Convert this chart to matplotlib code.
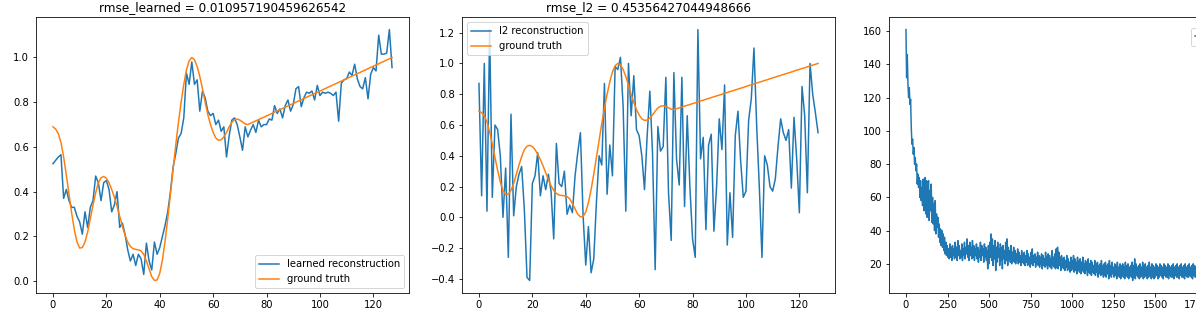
from __future__ import annotations

import matplotlib

matplotlib.use("Agg")

import matplotlib.pyplot as plt
import numpy as np


FIG_W_PX = 1196
FIG_H_PX = 322
DPI = 72

# reconstruction of a 128 sample signal
GROUND_TRUTH = [
    0.69, 0.68, 0.66, 0.62, 0.555, 0.475, 0.39, 0.305, 0.23, 0.175,
    0.148, 0.15, 0.175, 0.22, 0.28, 0.34, 0.395, 0.44, 0.462, 0.468,
    0.46, 0.44, 0.41, 0.375, 0.335, 0.29, 0.245, 0.205, 0.175, 0.155,
    0.145, 0.142, 0.14, 0.135, 0.12, 0.09, 0.055, 0.02, 0.003, 0.005,
    0.035, 0.095, 0.18, 0.28, 0.39, 0.50, 0.61, 0.71, 0.80, 0.88,
    0.945, 0.985, 1.0, 0.99, 0.96, 0.915, 0.86, 0.80, 0.745, 0.70,
    0.665, 0.64, 0.63, 0.632, 0.645, 0.665, 0.69, 0.71, 0.722, 0.725,
    0.72, 0.712, 0.703, 0.700, 0.706, 0.711, 0.717, 0.722, 0.728, 0.733,
    0.739, 0.744, 0.750, 0.756, 0.761, 0.767, 0.772, 0.778, 0.783, 0.789,
    0.794, 0.800, 0.806, 0.811, 0.817, 0.822, 0.828, 0.833, 0.839, 0.844,
    0.850, 0.856, 0.861, 0.867, 0.872, 0.878, 0.883, 0.889, 0.894, 0.900,
    0.906, 0.911, 0.917, 0.922, 0.928, 0.933, 0.939, 0.944, 0.950, 0.956,
    0.961, 0.967, 0.972, 0.978, 0.983, 0.989, 0.994, 1.000,
]

LEARNED_RECON = [
    0.525, 0.54, 0.555, 0.565, 0.37, 0.41, 0.36, 0.33, 0.33, 0.29,
    0.265, 0.21, 0.31, 0.24, 0.33, 0.36, 0.47, 0.44, 0.36, 0.44,
    0.45, 0.41, 0.31, 0.34, 0.40, 0.24, 0.26, 0.21, 0.14, 0.09,
    0.12, 0.07, 0.12, 0.10, 0.03, 0.17, 0.09, 0.05, 0.175, 0.12,
    0.15, 0.20, 0.25, 0.31, 0.40, 0.51, 0.57, 0.64, 0.66, 0.73,
    0.93, 0.88, 0.98, 0.88, 0.90, 0.76, 0.85, 0.82, 0.76, 0.74,
    0.75, 0.70, 0.72, 0.67, 0.69, 0.555, 0.65, 0.72, 0.73, 0.70,
    0.645, 0.585, 0.69, 0.645, 0.675, 0.70, 0.665, 0.72, 0.69, 0.70,
    0.70, 0.725, 0.72, 0.785, 0.75, 0.77, 0.73, 0.785, 0.81, 0.76,
    0.79, 0.86, 0.87, 0.78, 0.82, 0.845, 0.84, 0.85, 0.81, 0.875,
    0.83, 0.845, 0.84, 0.845, 0.84, 0.83, 0.845, 0.715, 0.885, 0.90,
    0.905, 0.935, 0.92, 0.97, 0.905, 0.87, 0.86, 0.91, 0.815, 0.925,
    0.955, 0.94, 1.10, 1.015, 1.015, 1.02, 1.125, 0.955,
]

L2_RECON = [
    0.87, 0.14, 1.00, 0.04, 1.22, 0.13, 0.60, 0.57, 0.40, 0.00,
    0.32, -0.26, 0.67, 0.01, 0.20, 0.28, 0.33, 0.05, -0.39, -0.41,
    0.22, 0.27, 0.42, 0.14, 0.27, 0.18, 0.28, 0.17, -0.14, 0.48,
    0.22, 0.20, 0.30, 0.02, 0.08, 0.03, 0.27, 0.42, 0.55, 0.01,
    -0.31, -0.06, -0.36, -0.27, 0.10, 0.40, 0.34, 0.87, 0.15, 0.47,
    0.27, 0.98, 0.96, 1.04, 0.72, 0.04, 1.00, 0.66, 0.92, 0.57,
    0.53, 0.40, 0.18, 0.53, 0.82, 0.42, -0.34, 0.59, 0.43, 0.46,
    0.91, 0.16, -0.15, 0.94, 0.38, 0.21, 0.91, 0.07, 0.66, 0.20,
    -0.14, -0.26, 1.22, 0.38, 0.52, -0.08, 0.47, 0.54, -0.09, 0.20,
    0.64, 0.44, 0.86, -0.18, 0.16, -0.13, 0.53, 0.69, 0.37, 0.13,
    0.17, 0.63, 0.77, 1.10, 0.60, 0.20, -0.26, 0.40, 0.34, 0.20,
    0.17, 0.25, 0.46, 0.64, 0.55, 0.50, 0.57, 0.19, 0.65, 0.38,
    0.03, 0.85, 0.66, 0.16, 1.00, 0.80, 0.68, 0.55,
]

RMSE_LEARNED = "0.010957190459626542"
RMSE_L2 = "0.45356427044948666"

# training loss, one value every LOSS_STEP iterations (0 .. 2040)
LOSS_STEP = 4
LOSS = [
    161, 132, 146, 128, 120, 126, 116, 119, 102, 92, 95, 86, 90, 80, 84, 76, 80, 68, 74, 66, 72, 60, 70, 58, 66,
    55, 71, 52, 68, 72, 50, 70, 48, 66, 70, 46, 64, 52, 68, 45, 60, 44, 56, 40, 58, 38, 50, 42, 48, 36,
    44, 33, 41, 31, 40, 30, 38, 28, 36, 26, 33, 25, 31, 24, 29, 23, 32, 24, 30, 22, 31, 25, 29, 23, 33,
    24, 30, 22, 34, 25, 31, 23, 28, 24, 32, 22, 29, 25, 33, 23, 30, 26, 35, 24, 31, 22, 33, 25, 30, 23,
    34, 24, 31, 22, 29, 25, 32, 23, 30, 21, 28, 24, 33, 22, 31, 25, 29, 21, 32, 24, 30, 22, 28, 17, 31,
    20, 33, 24, 38, 22, 35, 19, 31, 23, 34, 16, 30, 21, 33, 24, 29, 19, 32, 22, 30, 17, 31, 23, 28, 20,
    33, 22, 35, 19, 30, 23, 28, 21, 31, 20, 27, 22, 30, 21, 28, 20, 26, 22, 29, 20, 27, 21, 25, 19, 28,
    21, 26, 20, 27, 19, 25, 21, 28, 19, 26, 20, 24, 18, 27, 20, 29, 19, 25, 21, 26, 18, 24, 20, 27, 19,
    25, 18, 24, 20, 26, 17, 25, 19, 23, 18, 27, 19, 24, 17, 26, 19, 25, 18, 23, 17, 28, 19, 24, 18, 26,
    17, 29, 18, 30, 17, 27, 19, 24, 16, 25, 18, 23, 17, 24, 16, 22, 18, 25, 16, 23, 17, 21, 15, 24, 16,
    22, 17, 25, 15, 23, 16, 21, 14, 24, 16, 22, 15, 23, 14, 21, 16, 24, 15, 20, 14, 22, 16, 21, 13, 23,
    15, 20, 14, 22, 13, 21, 15, 19, 14, 22, 13, 20, 15, 21, 12, 19, 14, 20, 13, 22, 14, 19, 12, 20, 13,
    21, 12, 19, 14, 20, 11, 22, 13, 19, 12, 21, 14, 18, 12, 20, 13, 19, 11, 21, 13, 18, 12, 20, 11, 19,
    13, 20, 12, 18, 11, 21, 13, 19, 12, 20, 11, 18, 13, 19, 12, 21, 10, 19, 12, 23, 11, 20, 13, 18, 12,
    19, 11, 20, 12, 18, 13, 21, 11, 19, 12, 20, 13, 18, 11, 19, 12, 21, 13, 18, 11, 20, 12, 19, 11, 18,
    12, 20, 13, 19, 11, 18, 12, 20, 13, 19, 12, 18, 11, 20, 13, 19, 12, 18, 12, 20, 11, 19, 13, 18, 12,
    19, 12, 20, 11, 18, 13, 19, 12, 20, 12, 18, 11, 19, 13, 20, 12, 18, 12, 19, 11, 20, 13, 18, 12, 19,
    12, 20, 13, 18, 12, 19, 11, 20, 13, 19, 12, 18, 12, 20, 13, 19, 12, 18, 11, 20, 12, 19, 13, 18, 12,
    19, 13, 20, 12, 18, 12, 19, 13, 20, 12, 18, 13, 19, 12, 20, 13, 18, 12, 19, 12, 20, 13, 19, 12, 18,
    13, 19, 12, 20, 13, 18, 12, 19, 13, 20, 12, 18, 13, 19, 12, 20, 13, 18, 12, 19, 13, 20, 12, 18, 13,
    19, 12, 20, 13, 18, 12, 19, 13, 20, 12, 18,
]


def px_rect(left, top, width, height):
    # pixel box (from top-left) -> figure fraction rect
    return [
        left / FIG_W_PX,
        1 - (top + height) / FIG_H_PX,
        width / FIG_W_PX,
        height / FIG_H_PX,
    ]


def main() -> None:
    assert len(GROUND_TRUTH) == 128, len(GROUND_TRUTH)
    assert len(LEARNED_RECON) == 128, len(LEARNED_RECON)
    assert len(L2_RECON) == 128, len(L2_RECON)

    fig = plt.figure(figsize=(FIG_W_PX / DPI, FIG_H_PX / DPI), dpi=DPI)
    ax1 = fig.add_axes(px_rect(36, 17, 373, 276))
    ax2 = fig.add_axes(px_rect(462, 17, 373, 276))
    ax3 = fig.add_axes(px_rect(889, 17, 373, 276))

    x = np.arange(len(GROUND_TRUTH))

    ax1.plot(x, LEARNED_RECON, label="learned reconstruction")
    ax1.plot(x, GROUND_TRUTH, label="ground truth")
    ax1.set_title(f"rmse_learned = {RMSE_LEARNED}")
    ax1.legend(loc="lower right")

    ax2.plot(x, L2_RECON, label="l2 reconstruction")
    ax2.plot(x, GROUND_TRUTH, label="ground truth")
    ax2.set_title(f"rmse_l2 = {RMSE_L2}")
    ax2.legend(loc="upper left")

    # the third panel runs past the right edge of the saved image, as in the source
    steps = np.arange(len(LOSS)) * LOSS_STEP
    ax3.plot(steps, LOSS, label="loss")
    ax3.legend(loc="upper left", bbox_to_anchor=(0.795, 0.98))

    fig.savefig("out.png", dpi=DPI)
    plt.close(fig)


if __name__ == "__main__":
    main()
